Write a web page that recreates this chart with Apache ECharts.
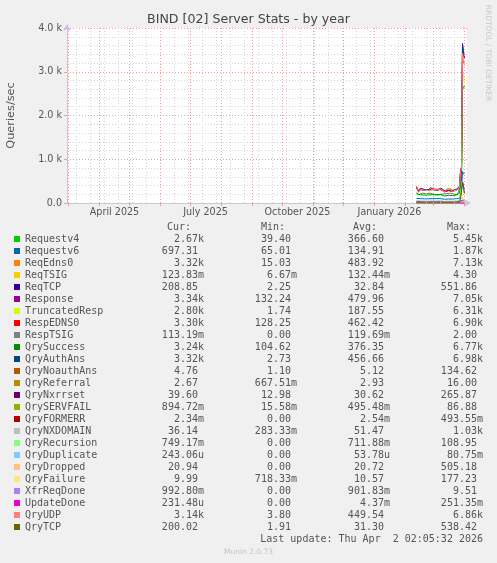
<!DOCTYPE html>
<html>
<head>
<meta charset="utf-8">
<script src="https://cdn.jsdelivr.net/npm/echarts@6/dist/echarts.min.js"></script>
<style>
html,body{margin:0;padding:0;background:#f0f0f0;}
#chart{width:497px;height:563px;}
</style>
</head>
<body>
<div id="chart"></div>
<script>
// ---------- data ----------
const dates = ['2026-02-12','2026-02-14','2026-02-16','2026-02-18','2026-02-20','2026-02-22','2026-02-24','2026-02-26','2026-02-28',
  '2026-03-02','2026-03-04','2026-03-06','2026-03-08','2026-03-10','2026-03-12','2026-03-14','2026-03-16','2026-03-18','2026-03-20','2026-03-22','2026-03-24',
  '2026-03-25','2026-03-26','2026-03-27','2026-03-28','2026-03-29','2026-03-30','2026-03-31','2026-04-01'];

const requestv4 = [240,190,215,225,200,215,205,225,215,195,210,185,220,205,180,215,200,225,190,200,210, 195,205,240,400,500,2700,2620,2670];
const requestv6 = [105,90,100,105,95,100,95,105,100,90,100,88,102,96,85,100,92,104,90,95,98, 92,95,110,180,300,720,660,697];
const reqEdns0 = [390,270,330,345,300,320,310,340,330,290,315,280,330,305,270,320,300,330,280,300,310, 290,300,360,700,800,3600,3420,3320];
const reqTSIG = [0.14,0.12,0.13,0.13,0.12,0.13,0.12,0.14,0.13,0.12,0.13,0.12,0.13,0.13,0.12,0.13,0.12,0.14,0.12,0.13,0.13, 0.12,0.13,0.13,0.2,0.3,2.5,1.0,0.12];
const reqTCP = [22,18,20,21,19,20,18,22,20,17,19,16,21,19,16,20,18,21,17,18,19, 18,19,25,120,300,480,400,209];
const response = [360,280,340,330,310,335,300,350,320,300,330,290,345,310,285,325,295,340,290,305,320, 300,310,380,760,830,3650,3460,3340];
const truncatedResp = [12,10,14,13,11,12,10,15,13,11,12,10,14,12,10,13,11,14,10,12,13, 11,12,20,220,520,3000,2900,2800];
const respEDNS0 = [370,260,320,335,295,315,300,330,320,285,305,275,320,295,265,310,290,320,275,295,300, 285,295,350,680,770,3560,3360,3300];
const respTSIG = [0.12,0.11,0.12,0.12,0.11,0.12,0.11,0.13,0.12,0.11,0.12,0.11,0.12,0.12,0.11,0.12,0.11,0.13,0.11,0.12,0.12, 0.11,0.12,0.12,0.2,0.3,1.5,0.8,0.11];
const qrySuccess = [210,165,190,200,180,195,185,200,190,170,185,165,195,180,160,190,175,200,170,180,185, 175,180,220,420,520,3300,3200,3240];
const qryAuthAns = [340,255,305,320,285,305,290,315,305,275,295,265,310,285,255,300,280,310,265,285,290, 275,285,340,670,760,3600,3390,3320];
const qryNoauthAns = [5.5,4.5,5,5.2,4.8,5,4.6,5.4,5,4.4,4.9,4.3,5.3,4.8,4.2,5,4.6,5.3,4.4,4.8,5, 4.6,4.8,5.5,6,7,9,6,4.76];
const qryReferral = [3.1,2.7,2.9,3,2.8,2.9,2.7,3.1,2.9,2.6,2.8,2.5,3,2.8,2.5,2.9,2.7,3,2.6,2.8,2.9, 2.7,2.8,3,3.2,3.5,4,3,2.67];
const qryNxrrset = [32,27,30,31,28,30,27,32,30,26,29,25,31,28,25,30,27,31,26,28,29, 27,28,30,35,40,60,50,39.6];
const qrySERVFAIL = [0.5,0.4,0.45,0.5,0.42,0.48,0.4,0.52,0.47,0.4,0.45,0.38,0.5,0.46,0.38,0.47,0.42,0.5,0.4,0.44,0.46, 0.42,0.45,0.6,2,5,40,20,0.89];
const qryFORMERR = [0.003,0.002,0.003,0.003,0.002,0.003,0.002,0.003,0.003,0.002,0.003,0.002,0.003,0.003,0.002,0.003,0.002,0.003,0.002,0.003,0.003, 0.002,0.003,0.003,0.01,0.02,0.2,0.1,0.002];
const qryNXDOMAIN = [55,45,50,52,47,50,46,53,50,44,48,43,52,48,42,50,46,52,44,47,49, 46,48,55,70,80,120,90,36];
const qryRecursion = [0.72,0.68,0.7,0.71,0.69,0.7,0.68,0.72,0.7,0.67,0.7,0.66,0.71,0.7,0.66,0.7,0.68,0.72,0.67,0.69,0.7, 0.68,0.7,0.72,0.8,1,5,2,0.75];
const qryDuplicate = [0,0,0,0,0,0,0,0,0,0,0,0,0,0,0,0,0,0,0,0,0, 0,0,0,0,0.0001,0.0008,0.0003,0.0002];
const qryDropped = [22,18,20,21,19,20,18,22,20,17,19,17,21,19,16,20,18,21,17,19,20, 18,19,20,22,24,25,23,20.94];
const qryFailure = [11,9,10,11,10,10,9,11,10,9,10,9,11,10,8,10,9,11,9,10,10, 9,10,11,12,14,15,12,9.99];
const xfrReqDone = [0.9,0.88,0.9,0.91,0.89,0.9,0.88,0.92,0.9,0.88,0.9,0.88,0.91,0.9,0.88,0.9,0.89,0.92,0.88,0.9,0.9, 0.89,0.9,0.91,0.93,0.95,1.0,0.98,0.99];
const updateDone = [0.004,0.003,0.004,0.005,0.004,0.004,0.003,0.005,0.004,0.003,0.004,0.003,0.005,0.004,0.003,0.004,0.003,0.005,0.003,0.004,0.004, 0.003,0.004,0.004,0.006,0.01,0.05,0.02,0.0002];
const qryUDP = [350,240,310,325,290,300,285,320,310,270,300,260,315,290,250,305,280,315,260,280,295, 270,290,350,700,800,3420,3300,3140];
const qryTCP = [21,17,19,20,18,19,17,21,19,16,18,15,20,18,15,19,17,20,16,17,18, 17,18,24,110,290,470,390,200];

const seriesNames = ['Requestv4','Requestv6','ReqEdns0','ReqTSIG','ReqTCP','Response','TruncatedResp','RespEDNS0','RespTSIG',
  'QrySuccess','QryAuthAns','QryNoauthAns','QryReferral','QryNxrrset','QrySERVFAIL','QryFORMERR','QryNXDOMAIN','QryRecursion',
  'QryDuplicate','QryDropped','QryFailure','XfrReqDone','UpdateDone','QryUDP','QryTCP'];
const seriesValues = [requestv4,requestv6,reqEdns0,reqTSIG,reqTCP,response,truncatedResp,respEDNS0,respTSIG,
  qrySuccess,qryAuthAns,qryNoauthAns,qryReferral,qryNxrrset,qrySERVFAIL,qryFORMERR,qryNXDOMAIN,qryRecursion,
  qryDuplicate,qryDropped,qryFailure,xfrReqDone,updateDone,qryUDP,qryTCP];
const seriesColors = ['#00CC00','#0066B3','#FF8000','#FFCC00','#330099','#990099','#CCFF00','#FF0000','#808080',
  '#008F00','#00487D','#B35A00','#B38F00','#6B006B','#8FB300','#B30000','#BEBEBE','#80FF80',
  '#80C9FF','#FFC080','#FFE680','#AA80FF','#EE00CC','#FF8080','#666600'];

const curVals = ['2.67k','697.31','3.32k','123.83m','208.85','3.34k','2.80k','3.30k','113.19m','3.24k','3.32k','4.76','2.67','39.60','894.72m','2.34m','36.14','749.17m','243.06u','20.94','9.99','992.80m','231.48u','3.14k','200.02'];
const minVals = ['39.40','65.01','15.03','6.67m','2.25','132.24','1.74','128.25','0.00','104.62','2.73','1.10','667.51m','12.98','15.58m','0.00','283.33m','0.00','0.00','0.00','718.33m','0.00','0.00','3.80','1.91'];
const avgVals = ['366.60','134.91','483.92','132.44m','32.84','479.96','187.55','462.42','119.69m','376.35','456.66','5.12','2.93','30.62','495.48m','2.54m','51.47','711.88m','53.78u','20.72','10.57','901.83m','4.37m','449.54','31.30'];
const maxVals = ['5.45k','1.87k','7.13k','4.30','551.86','7.05k','6.31k','6.90k','2.00','6.77k','6.98k','134.62','16.00','265.87','86.88','493.55m','1.03k','108.95','80.75m','505.18','177.23','9.51','251.35m','6.86k','538.42'];

const columnHeaders = ['Cur:','Min:','Avg:','Max:'];
const xLabelDates = ['2025-04-16','2025-07-16','2025-10-16','2026-01-16'];
const xLabelTexts = ['April 2025','July 2025','October 2025','January 2026'];
const monthStarts = ['2025-03-01','2025-04-01','2025-05-01','2025-06-01','2025-07-01','2025-08-01','2025-09-01','2025-10-01',
  '2025-11-01','2025-12-01','2026-01-01','2026-02-01','2026-03-01','2026-04-01'];
const minorDates = ['2025-03-09','2025-03-23','2025-04-06','2025-04-20','2025-05-04','2025-05-18','2025-06-01','2025-06-15','2025-06-29',
  '2025-07-13','2025-07-27','2025-08-10','2025-08-24','2025-09-07','2025-09-21','2025-10-05','2025-10-19','2025-11-02','2025-11-16',
  '2025-11-30','2025-12-14','2025-12-28','2026-01-11','2026-01-25','2026-02-08','2026-02-22','2026-03-08','2026-03-22'];
const xStart = '2025-02-27T12:00:00Z';
const xEnd = '2026-04-03T12:00:00Z';
const titleText = 'BIND [02] Server Stats - by year';
const yAxisTitle = 'Queries/sec';
const lastUpdate = 'Last update: Thu Apr  2 02:05:32 2026';
const footer = 'Munin 2.0.73';
const sideText = 'RRDTOOL / TOBI OETIKER';

// ---------- build ----------
const t = s => Date.parse(s.length === 10 ? s + 'T00:00:00Z' : s);
const pad = v => /[a-z]$/i.test(v) ? v : v + ' ';
const mono = '"DejaVu Sans Mono", monospace';
const sans = '"DejaVu Sans", sans-serif';
const textGrey = '#555';
const labelTs = xLabelDates.map(t);

const dataSeries = seriesNames.map((name, i) => ({
  name: name,
  type: 'line',
  showSymbol: false,
  symbol: 'none',
  animation: false,
  color: seriesColors[i],
  lineStyle: { width: 1, color: seriesColors[i] },
  emphasis: { disabled: true },
  z: 3,
  data: dates.map((d, k) => [t(d), seriesValues[i][k]])
}));

const gridSeries = {
  name: '__grid',
  type: 'line',
  data: [],
  silent: true,
  animation: false,
  z: 1,
  markLine: {
    silent: true,
    animation: false,
    symbol: ['none', 'none'],
    label: { show: false },
    emphasis: { disabled: true },
    data: minorDates.map(d => ({ xAxis: t(d), lineStyle: { color: '#d4d4d4', type: [1, 2], width: 1 } }))
      .concat(monthStarts.map(d => ({ xAxis: t(d), lineStyle: { color: '#eba0a0', type: [1, 2], width: 1 } })))
  }
};

const tok = extra => Object.assign({ fontFamily: mono, fontSize: 10, color: textGrey, lineHeight: 12, height: 12 }, extra);
const rich = {
  n: tok({ width: 110 }),
  c: tok({ width: 69, align: 'right' }),
  m: tok({ width: 93, align: 'right' }),
  a: tok({ width: 93, align: 'right' }),
  x: tok({ width: 93, align: 'right' })
};

const headerX = [167, 261, 353, 447];

const option = {
  backgroundColor: '#f0f0f0',
  animation: false,
  title: {
    text: titleText,
    left: 'center',
    top: 13,
    padding: 0,
    textStyle: { fontFamily: sans, fontSize: 12.6, fontWeight: 'normal', color: '#444' }
  },
  grid: {
    left: 67, right: 30, top: 28, bottom: 360,
    show: true, backgroundColor: '#ffffff', borderWidth: 0,
    containLabel: false, outerBoundsMode: 'none'
  },
  legend: {
    data: seriesNames,
    orient: 'vertical',
    left: 14,
    top: 233,
    itemGap: 0,
    itemWidth: 6,
    itemHeight: 6,
    icon: 'rect',
    selectedMode: false,
    padding: 0,
    textStyle: { fontFamily: mono, fontSize: 10, color: textGrey, rich: rich },
    formatter: function (name) {
      const i = seriesNames.indexOf(name);
      return '{n|' + name + '}{c|' + pad(curVals[i]) + '}{m|' + pad(minVals[i]) + '}{a|' + pad(avgVals[i]) + '}{x|' + pad(maxVals[i]) + '}';
    }
  },
  xAxis: {
    type: 'value',
    min: t(xStart),
    max: t(xEnd),
    scale: true,
    axisLine: { show: true, lineStyle: { color: '#c4c4f4', width: 1 }, symbol: ['none', 'arrow'], symbolSize: [6, 7], symbolOffset: [0, 4] },
    axisTick: { show: true, customValues: monthStarts.map(t), length: 3, lineStyle: { color: '#eba0a0' } },
    splitLine: { show: false },
    minorTick: { show: false },
    axisLabel: {
      show: true,
      customValues: labelTs,
      formatter: function (v) {
        let best = 0, bd = Infinity;
        labelTs.forEach((ts, k) => { const d = Math.abs(ts - v); if (d < bd) { bd = d; best = k; } });
        return xLabelTexts[best];
      },
      fontFamily: sans, fontSize: 9.6, color: textGrey, margin: 4,
      hideOverlap: false, showMinLabel: true, showMaxLabel: true
    }
  },
  yAxis: {
    type: 'value',
    min: 0,
    max: 4000,
    interval: 1000,
    name: yAxisTitle,
    nameLocation: 'middle',
    nameRotate: 90,
    nameGap: 50,
    nameTextStyle: { fontFamily: sans, fontSize: 11.3, color: textGrey },
    axisLine: { show: true, lineStyle: { color: '#c4c4f4', width: 1 }, symbol: ['none', 'arrow'], symbolSize: [6, 7], symbolOffset: [0, 4] },
    axisTick: { show: true, length: 3, lineStyle: { color: '#eba0a0' } },
    axisLabel: {
      fontFamily: sans, fontSize: 9.6, color: textGrey, margin: 5,
      formatter: v => v === 0 ? '0.0' : (v / 1000).toFixed(1) + ' k'
    },
    splitLine: { show: true, lineStyle: { color: '#eba0a0', type: [1, 2], width: 1 } },
    minorTick: { show: false, splitNumber: 5 },
    minorSplitLine: { show: true, lineStyle: { color: '#d4d4d4', type: [1, 2], width: 1 } }
  },
  graphic: columnHeaders.map((h, i) => ({
    type: 'text', x: headerX[i], y: 227.3, silent: true,
    style: { text: h, font: '10px ' + mono, fill: textGrey, align: 'left', verticalAlign: 'middle' }
  })).concat([
    { type: 'text', x: 483, y: 539.5, silent: true,
      style: { text: lastUpdate, font: '10px ' + mono, fill: textGrey, align: 'right', verticalAlign: 'middle' } },
    { type: 'text', x: 248.5, y: 552, silent: true,
      style: { text: footer, font: '7.5px ' + sans, fill: '#c4c4c4', align: 'center', verticalAlign: 'middle' } },
    { type: 'text', x: 487.5, y: 53, rotation: -Math.PI / 2, silent: true,
      style: { text: sideText, font: '7.5px ' + sans, fill: '#c8c8c8', align: 'center', verticalAlign: 'middle' } }
  ]),
  series: [gridSeries].concat(dataSeries)
};

const chart = echarts.init(document.getElementById('chart'), null, { renderer: 'canvas' });
chart.setOption(option);
</script>
</body>
</html>
